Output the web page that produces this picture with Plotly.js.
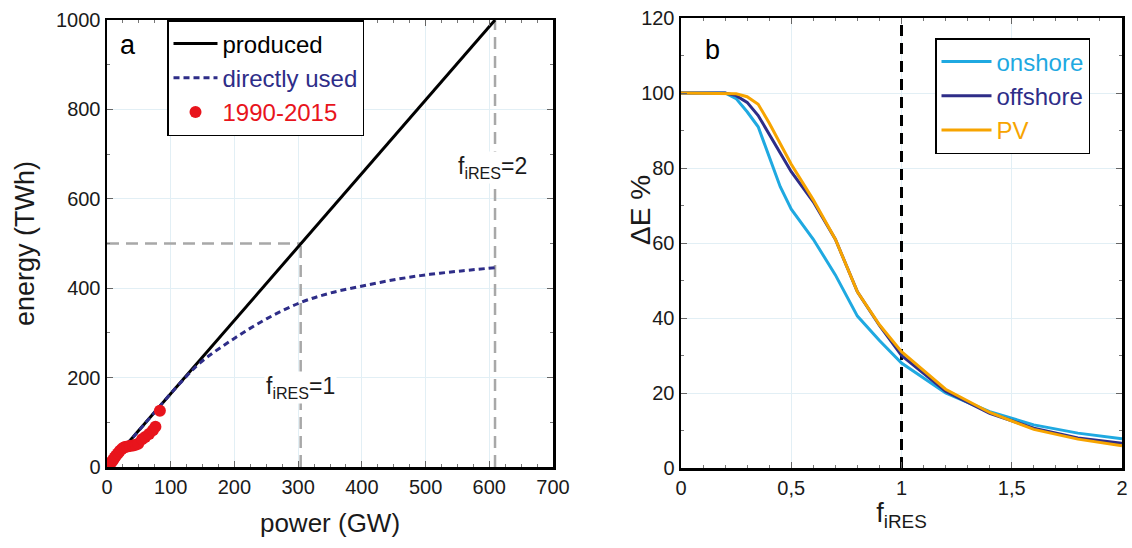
<!DOCTYPE html>
<html><head><meta charset="utf-8">
<script src="https://cdn.plot.ly/plotly-3.0.1.min.js"></script>
<style>html,body{margin:0;padding:0;background:#fff}</style>
</head><body><div id="chart" style="width:1132px;height:548px"></div>
<script>
// ---- Panel a data ----
const powerProduced = [30, 609];
const energyProduced = [49, 1000];
const powerUsed = [30, 60, 90, 115, 146, 198, 251, 304, 350, 401, 455, 507, 559, 609];
const energyUsed = [49, 98, 148, 188, 233, 286, 332, 368, 389, 405, 420, 431, 439, 446];
const powerHist = [0.5, 1, 2, 3, 4, 6, 8, 10, 12, 14, 17, 20, 23, 26, 28, 32, 36, 41, 45, 49, 55, 60, 66, 72, 76, 83];
const energyHist = [0.3, 1, 2, 4, 6, 9, 13, 17, 21, 25, 30, 36, 40, 43, 45, 46, 47, 48, 50, 52, 62, 67, 74, 82, 90, 126];
const fRes1Power = 304, fRes1Energy = 500;
const fRes2Power = 609, fRes2Energy = 1000;
const xTicksA = [0, 100, 200, 300, 400, 500, 600, 700];
const yTicksA = [0, 200, 400, 600, 800, 1000];

// ---- Panel b data ----
const fRatio   = [0, 0.2, 0.25, 0.3, 0.35, 0.4, 0.45, 0.5, 0.6, 0.7, 0.8, 0.9, 1.0, 1.2, 1.4, 1.6, 1.8, 2.0];
const onshore  = [100, 100, 98.5, 95, 91, 83, 75, 69, 61, 51.5, 40.5, 34, 28, 20, 15, 11.5, 9.3, 7.8];
const offshore = [100, 100, 99.3, 97.5, 94, 89, 84, 79, 71, 61, 47, 38, 30, 20.5, 14.6, 10.6, 8, 6.6];
const pv       = [100, 100, 99.8, 99, 97, 92, 86.5, 81, 71.5, 61, 47, 38.2, 31, 21, 14.8, 10.3, 7.7, 5.9];
const fRefLine = 1;
const yMaxB = 120;
const xTickValsB = [0, 0.5, 1, 1.5, 2];
const xTickTextB = ['0', '0,5', '1', '1,5', '2'];
const yTicksB = [0, 20, 40, 60, 80, 100, 120];

const FONT = 'Liberation Sans, Arial, Helvetica, sans-serif';
const NAVY = '#2e2d88', CYAN = '#1fa9e1', ORANGE = '#f7a400', RED = '#e8141c', GREY = '#a8a8a8';

const traces = [
  {x: [0, fRes1Power], y: [fRes1Energy, fRes1Energy], xaxis: 'x', yaxis: 'y', mode: 'lines',
   line: {color: GREY, width: 2.5, dash: '12px,7px'}, showlegend: false, hoverinfo: 'skip'},
  {x: [fRes1Power, fRes1Power], y: [0, fRes1Energy], xaxis: 'x', yaxis: 'y', mode: 'lines',
   line: {color: GREY, width: 2.5, dash: '12px,7px'}, showlegend: false, hoverinfo: 'skip'},
  {x: [fRes2Power, fRes2Power], y: [0, fRes2Energy], xaxis: 'x', yaxis: 'y', mode: 'lines',
   line: {color: GREY, width: 2.5, dash: '12px,7px'}, showlegend: false, hoverinfo: 'skip'},
  {x: powerProduced, y: energyProduced, xaxis: 'x', yaxis: 'y', mode: 'lines', name: 'produced',
   line: {color: '#000', width: 3}, legend: 'legend'},
  {x: powerUsed, y: energyUsed, xaxis: 'x', yaxis: 'y', mode: 'lines', line: {color: NAVY, width: 3, dash: '6px,4px', shape: 'spline'},
   name: '<span style="color:' + NAVY + '">directly used</span>', legend: 'legend'},
  {x: powerHist, y: energyHist, xaxis: 'x', yaxis: 'y', mode: 'markers',
   marker: {color: RED, size: 12}, name: '<span style="color:' + RED + '">1990-2015</span>', legend: 'legend'},

  {x: [fRefLine, fRefLine], y: [0, yMaxB], xaxis: 'x2', yaxis: 'y2', mode: 'lines',
   line: {color: '#000', width: 3, dash: '11px,7px'}, showlegend: false, hoverinfo: 'skip'},
  {x: fRatio, y: onshore, xaxis: 'x2', yaxis: 'y2', mode: 'lines', line: {color: CYAN, width: 3},
   name: '<span style="color:' + CYAN + '">onshore</span>', legend: 'legend2'},
  {x: fRatio, y: offshore, xaxis: 'x2', yaxis: 'y2', mode: 'lines', line: {color: NAVY, width: 3},
   name: '<span style="color:' + NAVY + '">offshore</span>', legend: 'legend2'},
  {x: fRatio, y: pv, xaxis: 'x2', yaxis: 'y2', mode: 'lines', line: {color: ORANGE, width: 3},
   name: '<span style="color:' + ORANGE + '">PV</span>', legend: 'legend2'}
];

const W = 1132, H = 548;
function px(v) { return v / W; }
function py(v) { return 1 - v / H; }

const axisCommon = {
  showline: true, linecolor: '#000', linewidth: 2.5, mirror: 'ticks',
  ticks: 'inside', ticklen: 6, tickwidth: 1, tickcolor: '#666',
  showgrid: true, gridcolor: '#e2eff5', gridwidth: 1, zeroline: false,
  tickfont: {family: FONT, size: 20, color: '#1a1a1a'}, automargin: false
};

const layout = {
  width: W, height: H,
  margin: {l: 0, r: 0, t: 0, b: 0},
  paper_bgcolor: '#fff', plot_bgcolor: '#fff',
  font: {family: FONT, color: '#1a1a1a'},
  xaxis: Object.assign({}, axisCommon, {
    domain: [px(107), px(553)], range: [0, 700], tickvals: xTicksA,
    minor: {ticks: 'inside', ticklen: 3, dtick: 25, tickcolor: '#777', showgrid: false},
    title: {text: 'power (GW)', font: {family: FONT, size: 26, color: '#1a1a1a'}, standoff: 18}
  }),
  yaxis: Object.assign({}, axisCommon, {
    domain: [py(467), py(20)], range: [0, 1000], tickvals: yTicksA, anchor: 'x',
    minor: {ticks: 'inside', ticklen: 3, dtick: 100, tickcolor: '#777', showgrid: false},
    title: {text: 'energy (TWh)', font: {family: FONT, size: 27, color: '#1a1a1a'}, standoff: 14}
  }),
  xaxis2: Object.assign({}, axisCommon, {
    domain: [px(681), px(1122)], range: [0, 2], tickvals: xTickValsB, ticktext: xTickTextB, anchor: 'y2',
    minor: {ticks: 'inside', ticklen: 3, dtick: 0.1, tickcolor: '#777', showgrid: false},
    title: {text: 'f<sub>iRES</sub>', font: {family: FONT, size: 27, color: '#1a1a1a'}, standoff: 6}
  }),
  yaxis2: Object.assign({}, axisCommon, {
    domain: [py(468), py(18)], range: [0, yMaxB], tickvals: yTicksB, anchor: 'x2',
    minor: {ticks: 'inside', ticklen: 3, dtick: 10, tickcolor: '#777', showgrid: false}
  }),
  legend: {
    x: px(167), y: py(20), xanchor: 'left', yanchor: 'top',
    bgcolor: '#fff', bordercolor: '#000', borderwidth: 1.5,
    font: {family: FONT, size: 24, color: '#000'}, itemwidth: 44
  },
  legend2: {
    x: px(935), y: py(38), xanchor: 'left', yanchor: 'top',
    bgcolor: '#fff', bordercolor: '#000', borderwidth: 1.5,
    font: {family: FONT, size: 24, color: '#000'}, itemwidth: 50
  },
  annotations: [
    {xref: 'paper', yref: 'paper', x: px(128), y: py(45), xanchor: 'center', yanchor: 'middle', text: 'a', showarrow: false,
     font: {family: FONT, size: 27, color: '#000'}},
    {xref: 'paper', yref: 'paper', x: px(712), y: py(50), xanchor: 'center', yanchor: 'middle', text: 'b', showarrow: false,
     font: {family: FONT, size: 27, color: '#000'}},
    {xref: 'x', yref: 'y', x: fRes1Power, y: 177, text: 'f<sub>iRES</sub>=1', showarrow: false,
     bgcolor: '#fff', font: {family: FONT, size: 23, color: '#1a1a1a'}},
    {xref: 'x', yref: 'y', x: fRes2Power - 4, y: 670, text: 'f<sub>iRES</sub>=2', showarrow: false,
     bgcolor: '#fff', font: {family: FONT, size: 23, color: '#1a1a1a'}},
    {xref: 'paper', yref: 'paper', x: px(641), y: py(210), xanchor: 'center', yanchor: 'middle', text: 'ΔE %', showarrow: false, textangle: -90,
     font: {family: FONT, size: 28, color: '#1a1a1a'}}
  ]
};

Plotly.newPlot('chart', traces, layout, {staticPlot: true, displayModeBar: false});
</script></body></html>
